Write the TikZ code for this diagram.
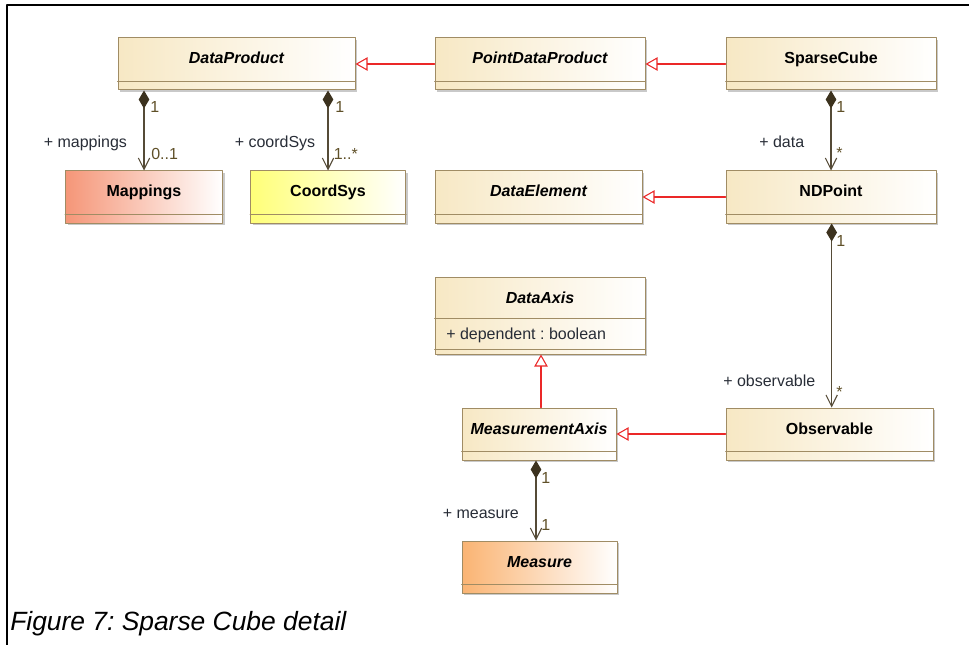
\documentclass[tikz,border=0pt]{standalone}
\usepackage{fontspec}
\setmainfont{Liberation Sans}
\usetikzlibrary{arrows.meta,shadows}
\frenchspacing
\definecolor{clsline}{RGB}{160,140,100}
\definecolor{clsfill}{RGB}{247,232,196}
\definecolor{mapfill}{RGB}{245,150,120}
\definecolor{csfill}{RGB}{255,255,120}
\definecolor{msfill}{RGB}{250,180,115}
\definecolor{assocline}{RGB}{85,75,55}
\definecolor{assocdia}{RGB}{60,50,30}
\definecolor{genred}{RGB}{235,40,40}
\definecolor{roletext}{RGB}{40,45,55}
\definecolor{multtext}{RGB}{95,80,40}

\begin{document}
\begin{tikzpicture}[line cap=round,line join=round,x=0.75pt,y=-0.75pt,
	cls/.style={draw=clsline,line width=0.75pt,left color=clsfill,right color=white,
		minimum height=39pt,inner sep=0pt,text height=9pt,text depth=9pt,
		font=\fontsize{12}{14}\selectfont\bfseries,
		drop shadow={shadow xshift=1.5pt,shadow yshift=-1.5pt,fill=black!30,opacity=0.7}},
	abstr/.style={cls,font=\fontsize{12}{14}\selectfont\bfseries\itshape},
	divline/.style={draw=clsline,line width=0.75pt},
	assoc/.style={draw=assocline,line width=0.8pt,
		{Diamond[length=13.5pt,width=8pt,fill=assocdia,color=assocdia]}-{Straight Barb[length=8.5pt,width=8.5pt]}},
	gen/.style={draw=genred,line width=0.8pt,-{Triangle[open,length=9pt,width=10pt,fill=white]}},
	role/.style={text=roletext,font=\fontsize{12}{14}\selectfont,inner sep=0pt,anchor=base west},
	mult/.style={text=multtext,font=\fontsize{12}{14}\selectfont,inner sep=0pt,anchor=base west}]
			\useasboundingbox (0,0) rectangle (969,645);
			\draw[line width=1.1pt,line cap=butt] (969,5) -- (7,5) -- (7,645);
			% classes
			\node[abstr,minimum width=177.75pt] (dp) at (236.5,64) {DataProduct};
			\node[abstr,minimum width=157.5pt] (pdp) at (540,64) {PointDataProduct};
			\node[cls,minimum width=157.5pt] (sc) at (831,64) {SparseCube};
			\node[cls,minimum width=117.75pt,left color=mapfill] (map) at (144,197) {Mappings};
			\node[cls,minimum width=116.25pt,left color=csfill] (cs) at (328,197) {CoordSys};
			\node[abstr,minimum width=155.25pt] (de) at (538.5,197) {DataElement};
			\node[cls,minimum width=157.5pt] (nd) at (831,197) {NDPoint};
			\node[abstr,minimum width=157.5pt,minimum height=57.75pt,text depth=27pt] (da) at (540,315.5) {DataAxis};
			\node[role] (dep) at (446,339.5) {+ dependent : boolean};
			\node[abstr,minimum width=115.5pt] (ma) at (539,434) {MeasurementAxis};
			\node[cls,minimum width=155.25pt] (obs) at (829.5,434) {Observable};
			\node[abstr,minimum width=116.25pt,left color=msfill] (ms) at (539.5,567) {Measure};
			% compartments
			\draw[divline] ([yshift=6.75pt]dp.south west) -- ([yshift=6.75pt]dp.south east);
			\draw[divline] ([yshift=6.75pt]pdp.south west) -- ([yshift=6.75pt]pdp.south east);
			\draw[divline] ([yshift=6.75pt]sc.south west) -- ([yshift=6.75pt]sc.south east);
			\draw[divline] ([yshift=6.75pt]map.south west) -- ([yshift=6.75pt]map.south east);
			\draw[divline] ([yshift=6.75pt]cs.south west) -- ([yshift=6.75pt]cs.south east);
			\draw[divline] ([yshift=6.75pt]de.south west) -- ([yshift=6.75pt]de.south east);
			\draw[divline] ([yshift=6.75pt]nd.south west) -- ([yshift=6.75pt]nd.south east);
			\draw[divline] ([yshift=-31.5pt]da.north west) -- ([yshift=-31.5pt]da.north east);
			\draw[divline] ([yshift=3.75pt]da.south west) -- ([yshift=3.75pt]da.south east);
			\draw[divline] ([yshift=6.75pt]ma.south west) -- ([yshift=6.75pt]ma.south east);
			\draw[divline] ([yshift=6.75pt]obs.south west) -- ([yshift=6.75pt]obs.south east);
			\draw[divline] ([yshift=6.75pt]ms.south west) -- ([yshift=6.75pt]ms.south east);
			% generalizations
			\draw[gen] (pdp.west) -- (dp.east);
			\draw[gen] (sc.west) -- (pdp.east);
			\draw[gen] (nd.west) -- (de.east);
			\draw[gen] (obs.west) -- (ma.east);
			\draw[gen] ([xshift=1.5pt]ma.north) -- ([xshift=1.5pt]ma.north |- da.south);
			% compositions
			\draw[assoc] (dp.south -| map.north) -- (map.north);
			\draw[assoc] (dp.south -| cs.north) -- (cs.north);
			\draw[assoc] (sc.south) -- (nd.north);
			\draw[assoc] ([xshift=0.5pt]nd.south) -- ([xshift=0.5pt]nd.south |- obs.north);
			\draw[assoc] ([xshift=-2.25pt]ma.south) -- ([xshift=-2.25pt]ma.south |- ms.north);
			% ends
			\node[mult] (m1) at (150,113) {1};
			\node[role] (r1) at (43.5,148) {+ mappings};
			\node[mult] (m2) at (151,160) {0..1};
			\node[mult] (m3) at (335,113) {1};
			\node[role] (r2) at (234.5,148) {+ coordSys};
			\node[mult] (m4) at (333.5,160) {1..*};
			\node[mult] (m5) at (836,113) {1};
			\node[role] (r3) at (759,148) {+ data};
			\node[mult] (m6) at (836,158.5) {*};
			\node[mult] (m7) at (836,246) {1};
			\node[role] (r4) at (723,386) {+ observable};
			\node[mult] (m8) at (836,397.5) {*};
			\node[mult] (m9) at (541,483) {1};
			\node[role] (r5) at (442.5,518) {+ measure};
			\node[mult] (m10) at (541,530) {1};
			% caption
			\node[anchor=base west,inner sep=0pt,font=\fontsize{19.8}{23}\selectfont\itshape] (cap) at (10,630) {Figure 7: Sparse Cube detail};
\end{tikzpicture}
\end{document}
